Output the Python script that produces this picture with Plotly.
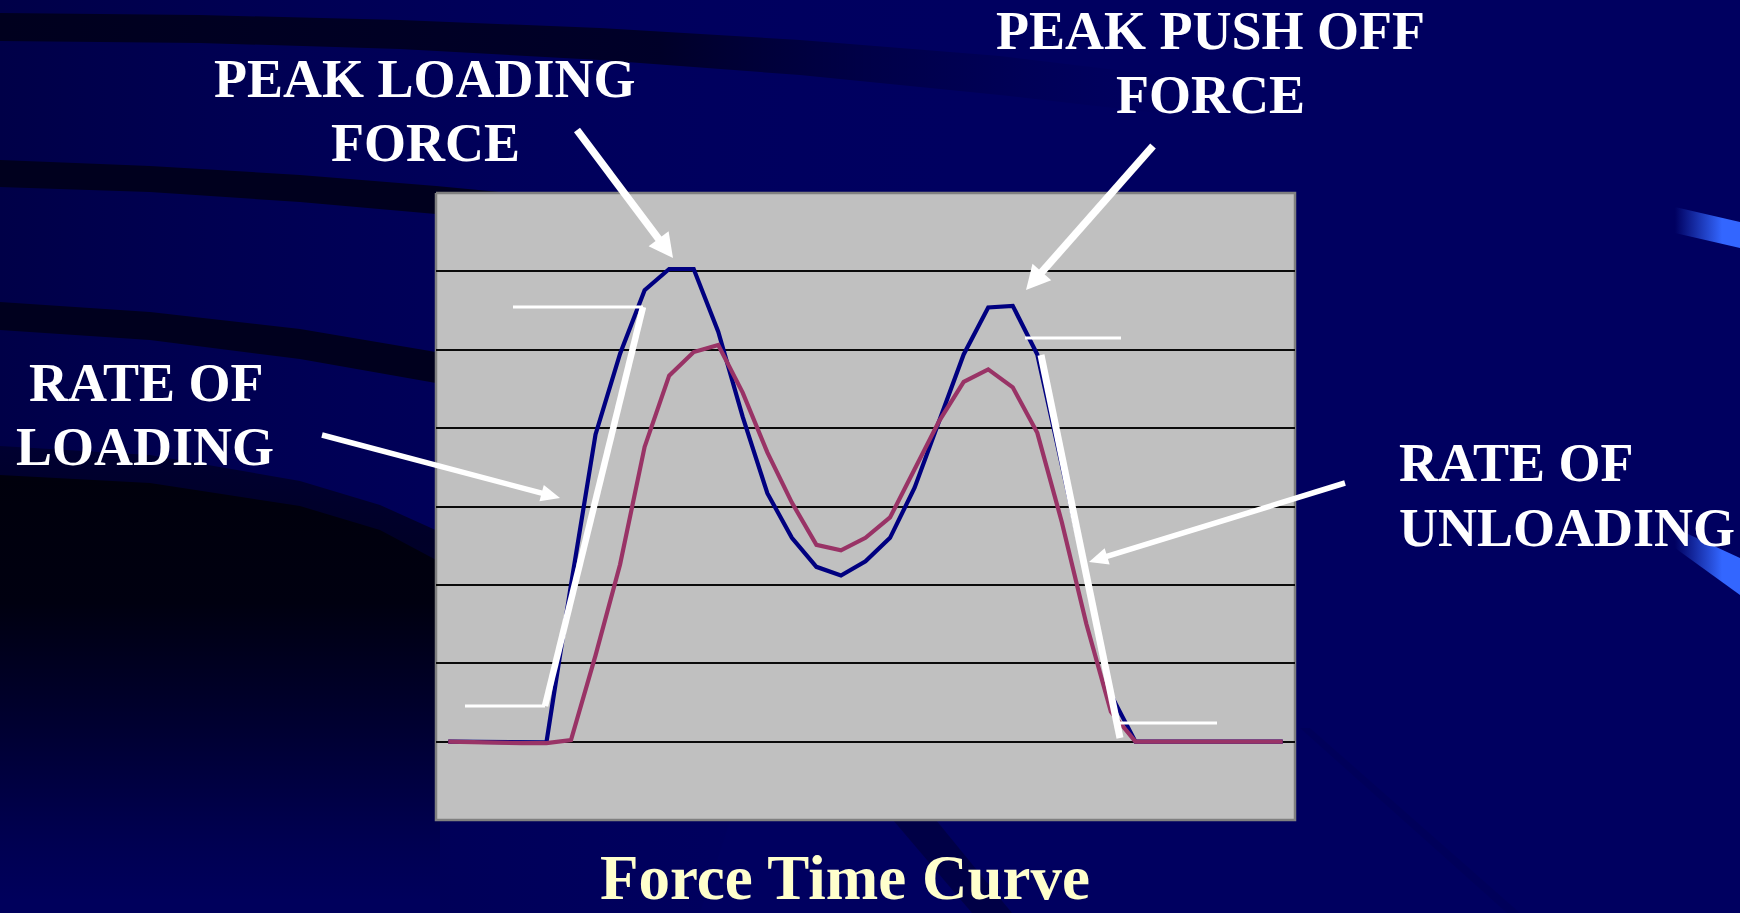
import math
import plotly.graph_objects as go

FIG_W, FIG_H = 1740, 913

# ---------------------------------------------------------------------------
# Force samples for two trials (arbitrary force units, equal time steps)
# ---------------------------------------------------------------------------
sample_no = list(range(1, 36))
force_trial_1 = [0, 0, -1, -1, -1, 200, 392, 495, 576, 603, 603, 523, 414, 317, 260,
                 223, 212, 230, 260, 324, 409, 494, 554, 556, 494, 355, 212, 60, 0, 0,
                 0, 0, 0, 0, 0]
force_trial_2 = [0, -1, -2, -2, -2, 2, 110, 226, 376, 467, 497, 506, 445, 369, 305,
                 251, 244, 260, 286, 348, 409, 459, 475, 452, 394, 280, 150, 38, 0, 0,
                 0, 0, 0, 0, 0]
force_gridlines = [0, 100, 200, 300, 400, 500, 600]
force_range = [-100, 700]
sample_range = [0.5, 35.5]

chart_title = "Force Time Curve"
callout_lines = [
    ("PEAK LOADING", 425, 79, "center"),
    ("FORCE", 425, 143, "center"),
    ("PEAK PUSH OFF", 1210, 31, "center"),
    ("FORCE", 1210, 95, "center"),
    ("RATE OF", 146, 383, "center"),
    ("LOADING", 145, 447, "center"),
    ("RATE OF", 1397, 463, "left"),
    ("UNLOADING", 1397, 528, "left"),
]

# ---------------------------------------------------------------------------
# Page geometry (pixels, origin top-left)
# ---------------------------------------------------------------------------
PX0, PY0, PX1, PY1 = 436, 193, 1295, 820
NAVY = "#000060"

fig = go.Figure()


def poly(xs, ys, color=None, grad=None, line_color=None, line_width=0):
    tr = go.Scatter(
        x=list(xs) + [xs[0]], y=list(ys) + [ys[0]],
        mode="lines", fill="toself",
        line=dict(width=line_width, color=line_color or "rgba(0,0,0,0)"),
        hoverinfo="skip", showlegend=False, xaxis="x", yaxis="y",
    )
    if grad is not None:
        tr.fillgradient = grad
    else:
        tr.fillcolor = color
    fig.add_trace(tr)


def band(upper, lower, **kw):
    xs = [p[0] for p in upper] + [p[0] for p in lower]
    ys = [p[1] for p in upper] + [p[1] for p in lower]
    poly(xs, ys, **kw)


# slide background
poly([0, FIG_W, FIG_W, 0], [0, 0, FIG_H, FIG_H], color=NAVY)
poly([0, 1000, 700, 0], [0, 0, 913, 913],
     grad=dict(type="horizontal", start=0, stop=1000,
               colorscale=[[0, "rgba(0,0,72,1)"], [1, "rgba(0,0,96,0)"]]))

# dark sweeping bands on the left
band([(0, 13), (200, 15), (400, 20), (600, 28), (800, 40), (1000, 56), (1200, 80)],
     [(1200, 118), (1000, 95), (800, 75), (600, 60), (400, 49), (200, 43), (0, 41)],
     grad=dict(type="horizontal", start=0, stop=1200,
               colorscale=[[0, "rgba(0,0,30,1)"], [0.55, "rgba(0,0,35,0.9)"],
                           [1, "rgba(0,0,80,0)"]]))
band([(0, 160), (150, 166), (300, 175), (436, 186), (520, 194)],
     [(520, 224), (436, 214), (300, 202), (150, 192), (0, 187)],
     color="rgba(0,0,30,1)")
band([(0, 302), (150, 312), (300, 329), (436, 352), (520, 368)],
     [(520, 400), (436, 383), (300, 359), (150, 340), (0, 330)],
     color="rgba(0,0,30,1)")

# dark sweep in the lower left, lightening toward the bottom edge
band([(0, 446), (150, 455), (300, 481), (380, 505), (440, 532), (440, 913)],
     [(0, 913)],
     grad=dict(type="vertical", start=446, stop=913,
               colorscale=[[0, "rgba(0,0,48,1)"], [0.2, "rgba(0,0,40,1)"],
                           [0.6, "rgba(0,0,62,1)"], [1, "rgba(0,0,92,1)"]]))
band([(0, 475), (150, 483), (300, 506), (380, 530), (440, 562), (440, 913)],
     [(0, 913)],
     grad=dict(type="vertical", start=475, stop=900,
               colorscale=[[0, "rgba(0,0,12,1)"], [0.3, "rgba(0,0,16,1)"],
                           [0.6, "rgba(0,0,50,1)"], [0.85, "rgba(0,0,80,1)"],
                           [1, "rgba(0,0,92,1)"]]))

# faint diagonal streaks
poly([893, 936, 1012, 972], [820, 820, 913, 913], color="rgba(0,0,60,0.7)")
poly([1300, 1310, 1520, 1507], [728, 728, 913, 913], color="rgba(0,0,86,0.6)")

# bright ribbons at the right edge
poly([1675, 1740, 1740, 1675], [207, 222, 248, 233],
     grad=dict(type="horizontal", start=1675, stop=1722,
               colorscale=[[0, "rgba(0,0,96,1)"], [1, "rgba(51,102,255,1)"]]))
poly([1675, 1740, 1740, 1675], [528, 558, 595, 548],
     grad=dict(type="horizontal", start=1675, stop=1722,
               colorscale=[[0, "rgba(0,0,96,1)"], [1, "rgba(51,102,255,1)"]]))

# chart plot area
poly([PX0, PX1, PX1, PX0], [PY0, PY0, PY1, PY1], color="#C0C0C0",
     line_color="#808080", line_width=2.5)

# ---------------------------------------------------------------------------
# Force traces
# ---------------------------------------------------------------------------
fig.add_trace(go.Scatter(
    x=sample_no, y=force_trial_1, mode="lines", xaxis="x2", yaxis="y2",
    line=dict(color="#000080", width=4.2), hoverinfo="skip", showlegend=False))
fig.add_trace(go.Scatter(
    x=sample_no, y=force_trial_2, mode="lines", xaxis="x2", yaxis="y2",
    line=dict(color="#993366", width=4.2), hoverinfo="skip", showlegend=False))

# ---------------------------------------------------------------------------
# White guide lines and arrows
# ---------------------------------------------------------------------------
shapes = []


def seg(x0, y0, x1, y1, w):
    shapes.append(dict(type="line", xref="x", yref="y", x0=x0, y0=y0, x1=x1, y1=y1,
                       line=dict(color="white", width=w), layer="above"))


# loading slope
seg(513, 307, 643, 307, 2.8)
seg(643, 307, 545, 706, 6.5)
seg(465, 706, 545, 706, 2.8)
# unloading slope
seg(1025, 338, 1121, 338, 2.8)
seg(1041, 355, 1120, 738, 7)
seg(1120, 723, 1217, 723, 2.8)


def arrow(tail, tip, width, head_len, head_w):
    tx, ty = tail
    hx, hy = tip
    L = math.hypot(hx - tx, hy - ty)
    dx, dy = (hx - tx) / L, (hy - ty) / L
    nx, ny = -dy, dx
    bx, by = hx - dx * head_len, hy - dy * head_len
    seg(tx, ty, bx + dx * 2, by + dy * 2, width)
    path = (f"M{hx},{hy} L{bx + nx * head_w / 2},{by + ny * head_w / 2} "
            f"L{bx - nx * head_w / 2},{by - ny * head_w / 2} Z")
    shapes.append(dict(type="path", xref="x", yref="y", path=path,
                       fillcolor="white", line=dict(width=0), layer="above"))


arrow((577, 130), (673, 258), 7.5, 24, 25)
arrow((1153, 146), (1026, 290), 7.5, 24, 25)
arrow((322, 435), (560, 498), 5.5, 19, 17)
arrow((1345, 483), (1089, 562), 5.5, 19, 17)

# ---------------------------------------------------------------------------
# Text
# ---------------------------------------------------------------------------
annotations = []
for text, x, y, anchor in callout_lines:
    annotations.append(dict(
        text=f"<b>{text}</b>", x=x, y=y, xref="x", yref="y",
        xanchor=anchor, yanchor="middle", showarrow=False,
        font=dict(family="Liberation Serif", size=54, color="white")))
annotations.append(dict(
    text=f"<b>{chart_title}</b>", x=845, y=878, xref="x", yref="y",
    xanchor="center", yanchor="middle", showarrow=False, borderpad=0,
    font=dict(family="Liberation Serif", size=63, color="#FFFFCC")))

fig.update_layout(
    width=FIG_W, height=FIG_H,
    margin=dict(l=0, r=0, t=0, b=0),
    paper_bgcolor=NAVY,
    plot_bgcolor="rgba(0,0,0,0)",
    showlegend=False,
    xaxis=dict(domain=[0, 1], range=[0, FIG_W], visible=False, fixedrange=True),
    yaxis=dict(domain=[0, 1], range=[FIG_H, 0], visible=False, fixedrange=True),
    xaxis2=dict(domain=[PX0 / FIG_W, PX1 / FIG_W], range=sample_range, anchor="y2",
                showgrid=False, zeroline=False, showline=False,
                showticklabels=False, ticks=""),
    yaxis2=dict(domain=[1 - PY1 / FIG_H, 1 - PY0 / FIG_H], range=force_range,
                anchor="x2", tickvals=force_gridlines, showgrid=True,
                gridcolor="#0a0a0a", gridwidth=2, zeroline=False, showline=False,
                showticklabels=False, ticks=""),
    shapes=shapes,
    annotations=annotations,
)

fig.write_html("out.html")
